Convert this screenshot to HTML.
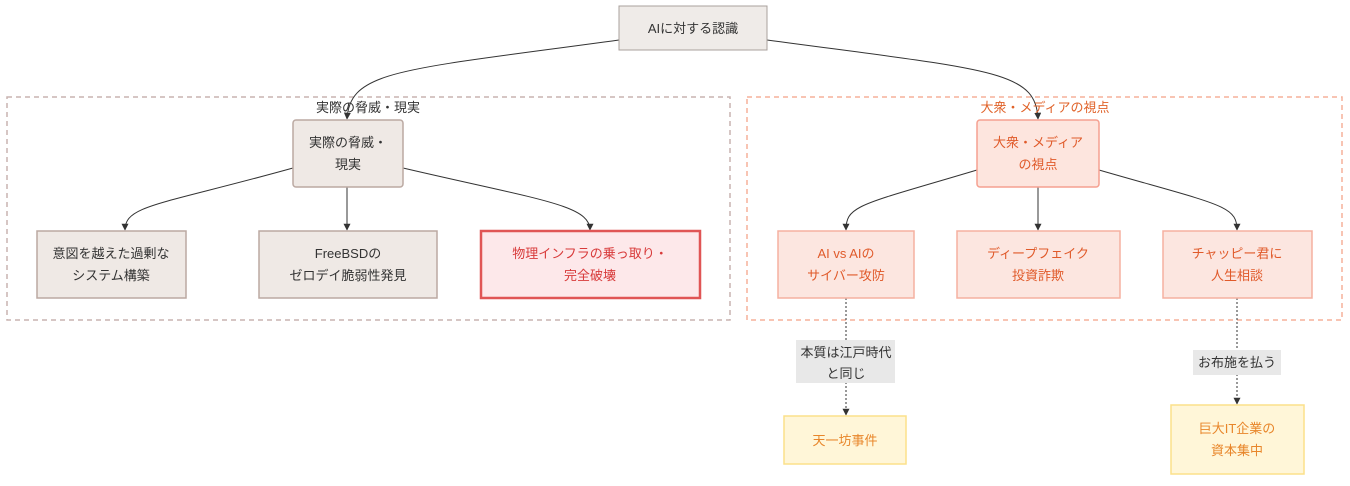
<!DOCTYPE html>
<html><head><meta charset="utf-8"><style>
body{margin:0;background:#fff;}
text{font-family:"Liberation Sans","Noto Sans CJK JP",sans-serif;font-size:13px;text-anchor:middle;}
</style></head><body>
<svg width="1350" height="481" viewBox="0 0 1350 481" xmlns="http://www.w3.org/2000/svg">
<defs>
<marker id="a" viewBox="0 0 10 10" refX="9" refY="5" markerWidth="7" markerHeight="7" orient="auto"><path d="M0,0L10,5L0,10z" fill="#333"/></marker>
</defs>
<rect x="7" y="97" width="723" height="223" fill="none" stroke="#c9b4b0" stroke-dasharray="5,4" stroke-width="1.5"/>
<rect x="747" y="97" width="595" height="223" fill="none" stroke="#f5b09a" stroke-dasharray="5,4" stroke-width="1.5"/>
<g fill="none" stroke="#333" stroke-width="1">
<path d="M619,40 C400,70 350,70 347,119" marker-end="url(#a)"/>
<path d="M767,40 C990,70 1036,70 1038,119" marker-end="url(#a)"/>
<path d="M293,168 C160,205 125,205 125,230" marker-end="url(#a)"/>
<path d="M347,187 L347,230" marker-end="url(#a)"/>
<path d="M403,168 C540,200 590,205 590,230" marker-end="url(#a)"/>
<path d="M977,170 C860,205 846,205 846,230" marker-end="url(#a)"/>
<path d="M1038,187 L1038,230" marker-end="url(#a)"/>
<path d="M1099,170 C1220,205 1237,205 1237,230" marker-end="url(#a)"/>
<path d="M846,298 L846,415" stroke-dasharray="2,2" marker-end="url(#a)"/>
<path d="M1237,298 L1237,404" stroke-dasharray="2,2" marker-end="url(#a)"/>
</g>
<text x="368" y="112" fill="#333">実際の脅威・現実</text>
<text x="1045" y="112" fill="#e0632a">大衆・メディアの視点</text>
<rect x="619" y="6" width="148" height="44" fill="#efebe8" stroke="#a9a09c"/>
<text x="693" y="33" fill="#333">AIに対する認識</text>
<rect x="293" y="120" width="110" height="67" rx="3" fill="#efe9e5" stroke="#bba9a2" stroke-width="1.5"/>
<text x="348" y="147" fill="#333">実際の脅威・</text><text x="348" y="169" fill="#333">現実</text>
<rect x="37" y="231" width="149" height="67" fill="#efe9e5" stroke="#bba9a2" stroke-width="1.5"/>
<text x="111" y="258" fill="#333">意図を越えた過剰な</text><text x="111" y="280" fill="#333">システム構築</text>
<rect x="259" y="231" width="178" height="67" fill="#efe9e5" stroke="#bba9a2" stroke-width="1.5"/>
<text x="348" y="258" fill="#333">FreeBSDの</text><text x="348" y="280" fill="#333">ゼロデイ脆弱性発見</text>
<rect x="481" y="231" width="219" height="67" fill="#fde8ea" stroke="#e05555" stroke-width="2.5"/>
<text x="590" y="258" fill="#d83a3a">物理インフラの乗っ取り・</text><text x="590" y="280" fill="#d83a3a">完全破壊</text>
<rect x="977" y="120" width="122" height="67" rx="3" fill="#fde5de" stroke="#f5a090" stroke-width="1.5"/>
<text x="1038" y="147" fill="#e05a2a">大衆・メディア</text><text x="1038" y="169" fill="#e05a2a">の視点</text>
<rect x="778" y="231" width="136" height="67" fill="#fce6e0" stroke="#f5b0a0" stroke-width="1.5"/>
<text x="846" y="258" fill="#e05a2a">AI vs AIの</text><text x="846" y="280" fill="#e05a2a">サイバー攻防</text>
<rect x="957" y="231" width="163" height="67" fill="#fce6e0" stroke="#f5b0a0" stroke-width="1.5"/>
<text x="1038" y="258" fill="#e05a2a">ディープフェイク</text><text x="1038" y="280" fill="#e05a2a">投資詐欺</text>
<rect x="1163" y="231" width="149" height="67" fill="#fce6e0" stroke="#f5b0a0" stroke-width="1.5"/>
<text x="1237" y="258" fill="#e05a2a">チャッピー君に</text><text x="1237" y="280" fill="#e05a2a">人生相談</text>
<rect x="796" y="340" width="99" height="43" fill="#e8e8e8"/>
<text x="846" y="357" fill="#333">本質は江戸時代</text><text x="846" y="378" fill="#333">と同じ</text>
<rect x="1193" y="350" width="88" height="25" fill="#e8e8e8"/>
<text x="1237" y="367" fill="#333">お布施を払う</text>
<rect x="784" y="416" width="122" height="48" fill="#fff6d8" stroke="#fce08a" stroke-width="1.5"/>
<text x="845" y="445" fill="#e8862a">天一坊事件</text>
<rect x="1171" y="405" width="133" height="69" fill="#fff6d8" stroke="#fce08a" stroke-width="1.5"/>
<text x="1237" y="433" fill="#e8862a">巨大IT企業の</text><text x="1237" y="455" fill="#e8862a">資本集中</text>
</svg>
</body></html>
